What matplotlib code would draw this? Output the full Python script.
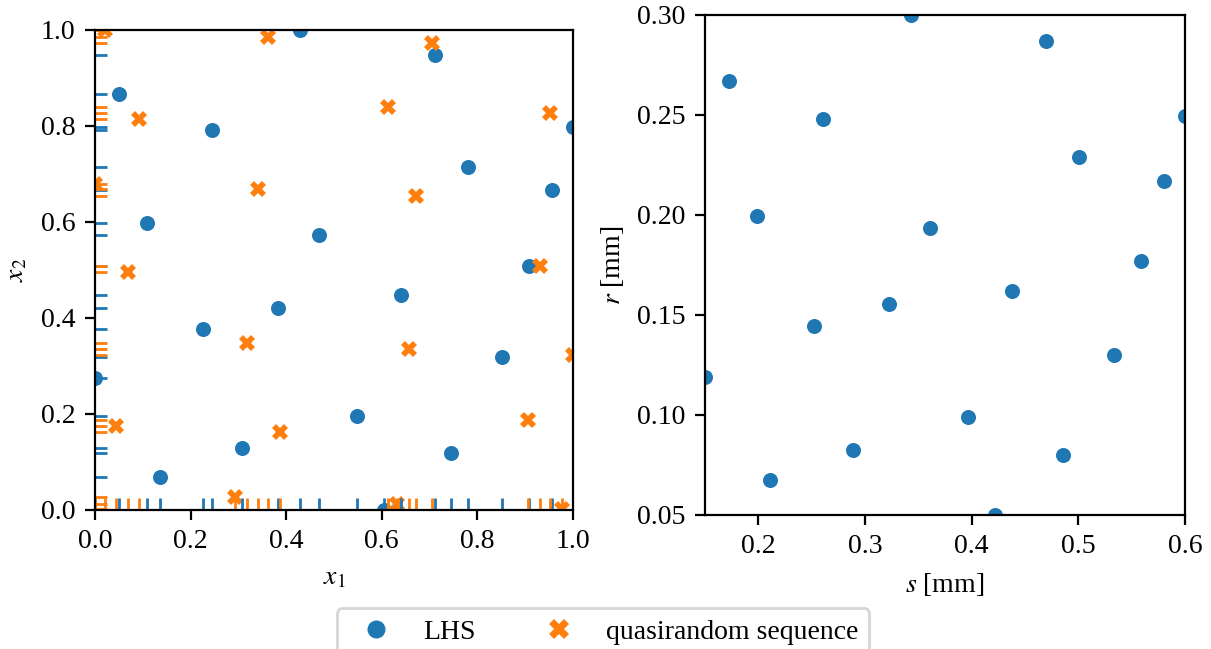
import matplotlib.pyplot as plt
import numpy as np

plt.rcParams['font.family'] = ['Liberation Serif', 'DejaVu Serif']
plt.rcParams['mathtext.fontset'] = 'stix'
plt.rcParams['font.size'] = 10

# Latin hypercube samples on the unit square
lhs_x1 = [0.050, 0.245, 0.429, 0.711, 1.000, 0.956, 0.780, 0.109, 0.469, 0.383,
          0.640, 0.908, 0.226, 0.851, 0.548, 0.308, 0.745, 0.136, 0.605, 0.000]
lhs_x2 = [0.867, 0.792, 1.000, 0.948, 0.798, 0.667, 0.715, 0.598, 0.573, 0.421,
          0.448, 0.508, 0.377, 0.319, 0.196, 0.129, 0.119, 0.069, 0.000, 0.275]

# Quasirandom (low-discrepancy) sequence on the unit square
qrs_x1 = [0.020, 0.362, 0.705, 0.613, 0.952, 0.092, 0.341, 0.672, 0.000, 0.069,
          0.931, 0.318, 0.657, 1.000, 0.044, 0.387, 0.906, 0.293, 0.632, 0.977]
qrs_x2 = [1.000, 0.985, 0.973, 0.840, 0.827, 0.815, 0.669, 0.654, 0.680, 0.496,
          0.508, 0.348, 0.335, 0.322, 0.175, 0.163, 0.188, 0.027, 0.013, 0.003]

# Physical parameter ranges [mm]
s_range = (0.15, 0.6)
r_range = (0.05, 0.3)

lhs_x1 = np.array(lhs_x1)
lhs_x2 = np.array(lhs_x2)
s_vals = s_range[0] + (s_range[1] - s_range[0]) * lhs_x1
r_vals = r_range[0] + (r_range[1] - r_range[0]) * lhs_x2

blue = '#1f77b4'
orange = '#ff7f0e'

fig = plt.figure(figsize=(6.055, 3.245), dpi=200)
ax1 = fig.add_axes([0.0784, 0.2142, 0.3947, 0.7396])
ax2 = fig.add_axes([0.5822, 0.2065, 0.3964, 0.7704])


def rug(ax, x, y, color, h=0.025):
    ax.vlines(x, 0, h, color=color, lw=1, transform=ax.get_xaxis_transform())
    ax.hlines(y, 0, h, color=color, lw=1, transform=ax.get_yaxis_transform())


ax1.plot(lhs_x1, lhs_x2, 'o', color=blue, ms=5.4, mew=0, label='LHS')
ax1.plot(qrs_x1, qrs_x2, 'X', color=orange, ms=6, mew=0, label='quasirandom sequence')
rug(ax1, lhs_x1, lhs_x2, blue)
rug(ax1, qrs_x1, qrs_x2, orange)
ax1.set_xlim(0, 1)
ax1.set_ylim(0, 1)
ax1.set_xlabel('$x_1$')
ax1.set_ylabel('$x_2$')

ax2.plot(s_vals, r_vals, 'o', color=blue, ms=5.4, mew=0)
ax2.set_xlim(*s_range)
ax2.set_ylim(*r_range)
ax2.set_xticks([0.2, 0.3, 0.4, 0.5, 0.6])
ax2.set_yticks([0.05, 0.10, 0.15, 0.20, 0.25, 0.30])
ax2.set_yticklabels(['0.05', '0.10', '0.15', '0.20', '0.25', '0.30'])
ax2.set_xlabel('$s$ [mm]')
ax2.set_ylabel('$r$ [mm]')

handles, labels = ax1.get_legend_handles_labels()
fig.legend(handles, labels, loc='upper center', bbox_to_anchor=(0.498, 0.0632),
           borderaxespad=0, ncol=2, markerscale=1.2, handletextpad=0.7,
           columnspacing=2.0)

fig.savefig('out.png', dpi=200)
